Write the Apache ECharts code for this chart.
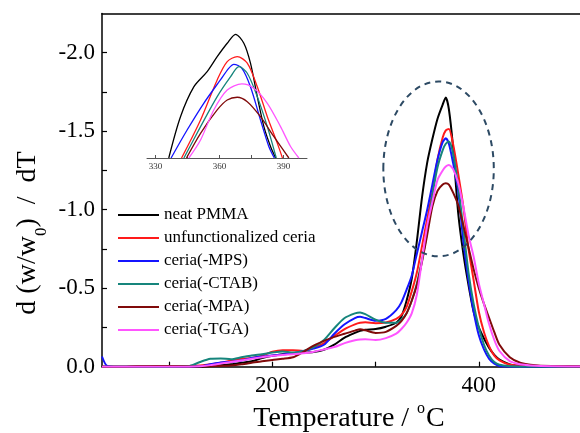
<!DOCTYPE html>
<html><head><meta charset="utf-8">
<script src="https://cdn.jsdelivr.net/npm/echarts@6/dist/echarts.min.js"></script>
<style>html,body{margin:0;padding:0;background:#fff}#c{width:580px;height:433px}</style>
</head><body><div id="c"></div>
<script>
// ---- main chart data ----
const temps = [35,40,50,70,90,110,120,130,140,150,160,170,180,190,200,210,220,230,240,250,260,270,280,285,290,300,310,320,325,330,335,340,345,350,355,360,365,368,371,375,380,385,390,395,400,405,410,415,420,430,440,450,470,500];
const neatPMMA = [0,0,0,0,0, 0,0,0,-0.005,-0.01, -0.015,-0.025,-0.035,-0.055,-0.07, -0.08,-0.085,-0.088,-0.093,-0.108, -0.14,-0.185,-0.215,-0.228,-0.235, -0.24,-0.255,-0.28,-0.32,-0.42, -0.56,-0.8,-1.08,-1.3,-1.45, -1.58,-1.67,-1.715,-1.64,-1.4, -0.98,-0.72,-0.52,-0.35,-0.25, -0.18,-0.12,-0.075,-0.045,-0.015, -0.005,0,0,0];
const unfuncCeria = [0,0,0,-0.003,-0.005, -0.005,-0.005,-0.008,-0.015,-0.025, -0.04,-0.05,-0.055,-0.07,-0.095, -0.105,-0.105,-0.1,-0.12,-0.15, -0.195,-0.24,-0.27,-0.28,-0.283, -0.277,-0.282,-0.305,-0.33,-0.38, -0.48,-0.6,-0.77,-0.94,-1.11, -1.32,-1.46,-1.505,-1.515,-1.42, -1.23,-1.02,-0.75,-0.55,-0.35, -0.22,-0.13,-0.07,-0.04,-0.012, -0.008,-0.006,-0.004,-0.003];
const ceriaMPS = [-0.065,-0.005,0,0,0, 0,0,-0.003,-0.015,-0.027, -0.032,-0.04,-0.055,-0.065,-0.072, -0.078,-0.085,-0.1,-0.115,-0.14, -0.21,-0.27,-0.31,-0.318,-0.31, -0.293,-0.305,-0.36,-0.41,-0.49, -0.58,-0.72,-0.86,-1.0,-1.16, -1.32,-1.43,-1.455,-1.42,-1.3, -1.12,-0.8,-0.55,-0.35,-0.2, -0.11,-0.05,-0.02,-0.005,0, 0,0,0,0];
const ceriaCTAB = [0,0,0,0,0, -0.002,-0.005,-0.03,-0.05,-0.053, -0.048,-0.06,-0.072,-0.08,-0.09, -0.097,-0.09,-0.1,-0.125,-0.17, -0.245,-0.31,-0.34,-0.346,-0.335, -0.3,-0.28,-0.28,-0.3,-0.34, -0.42,-0.53,-0.68,-0.86,-1.09, -1.27,-1.38,-1.42,-1.435,-1.36, -1.15,-0.88,-0.6,-0.4,-0.25, -0.14,-0.07,-0.03,-0.012,-0.003, 0,0,0,0];
const ceriaMPA = [0,0,0,-0.003,-0.005, -0.003,-0.002,-0.002,-0.003,-0.005, -0.008,-0.015,-0.025,-0.035,-0.043, -0.05,-0.06,-0.095,-0.135,-0.165, -0.19,-0.21,-0.23,-0.238,-0.232, -0.215,-0.222,-0.26,-0.29,-0.34, -0.42,-0.52,-0.67,-0.84,-1.02, -1.12,-1.16,-1.168,-1.16,-1.11, -1.03,-0.9,-0.76,-0.62,-0.5, -0.4,-0.31,-0.22,-0.14,-0.06, -0.025,-0.013,-0.004,-0.002];
const ceriaTGA = [0,0,0,0,0, 0,0,-0.003,-0.01,-0.02, -0.03,-0.04,-0.05,-0.06,-0.07, -0.075,-0.08,-0.085,-0.095,-0.11, -0.125,-0.15,-0.168,-0.174,-0.175, -0.17,-0.182,-0.21,-0.24,-0.28, -0.34,-0.46,-0.68,-0.9,-1.05, -1.19,-1.25,-1.275,-1.285,-1.26, -1.17,-1.02,-0.84,-0.7,-0.53, -0.4,-0.27,-0.17,-0.1,-0.035, -0.015,-0.008,-0.003,-0.002];

const seriesNames = ['neat PMMA','unfunctionalized ceria','ceria(-MPS)','ceria(-CTAB)','ceria(-MPA)','ceria(-TGA)'];
const seriesColors = ['#000000','#ff1a1a','#1414ff','#16857c','#800a0a','#ff55ff'];

const xLabelValues = [200,400];
const xTickValues = [100,200,300,400];
const yLabelValues = [0,-0.5,-1.0,-1.5,-2.0];
const yTickValues = [0,-0.25,-0.5,-0.75,-1.0,-1.25,-1.5,-1.75,-2.0];

// ---- inset data (peak region) ----
const insetT_black = [336.2,341.7,348.0,354.2,358.9,363.6,367.5,371.4,374.5,377.7,380.8,383.9,386.3];
const insetV_black = [-0.685,-1.026,-1.274,-1.398,-1.522,-1.633,-1.707,-1.633,-1.468,-1.192,-0.944,-0.78,-0.685];
const insetT_red = [342.2,351.1,358.9,363.6,368.3,373.0,377.7,382.4,387.1,389.5];
const insetV_red = [-0.685,-0.999,-1.33,-1.481,-1.522,-1.468,-1.274,-1.026,-0.806,-0.685];
const insetT_blue = [337.3,344.8,352.6,360.4,364.3,366.7,370.5,374.5,379.2,383.1,385.7];
const insetV_blue = [-0.685,-0.916,-1.137,-1.33,-1.426,-1.459,-1.426,-1.274,-0.999,-0.78,-0.685];
const insetT_teal = [343.3,351.1,358.9,365.2,369.1,373.0,377.7,382.4,386.6];
const insetV_teal = [-0.685,-0.944,-1.192,-1.357,-1.44,-1.385,-1.192,-0.944,-0.685];
const insetT_brown = [344.5,351.1,358.9,363.6,368.3,373.0,379.2,385.5,392.5];
const insetV_brown = [-0.685,-0.889,-1.082,-1.164,-1.187,-1.15,-1.026,-0.861,-0.685];
const insetT_magenta = [345.6,351.1,357.3,363.6,370.5,376.1,382.4,388.6,393.3,397.2];
const insetV_magenta = [-0.685,-0.834,-1.082,-1.247,-1.297,-1.261,-1.137,-0.944,-0.78,-0.685];
const insetXLabels = [330,360,390];
const insetXTicks = [330,345,360,375,390];

const mainVals = [neatPMMA, unfuncCeria, ceriaMPS, ceriaCTAB, ceriaMPA, ceriaTGA];
const insetT = [insetT_black, insetT_red, insetT_blue, insetT_teal, insetT_brown, insetT_magenta];
const insetV = [insetV_black, insetV_red, insetV_blue, insetV_teal, insetV_brown, insetV_magenta];

const FONT = 'Liberation Serif';
const chart = echarts.init(document.getElementById('c'), null, {renderer:'canvas'});

const series = [];
mainVals.forEach((arr, k) => {
  series.push({
    name: seriesNames[k], type: 'line', xAxisIndex: 0, yAxisIndex: 0,
    data: temps.map((t, i) => [t, arr[i]]),
    showSymbol: false, smooth: 0.25, clip: true,
    lineStyle: {width: 2, color: seriesColors[k]}, itemStyle: {color: seriesColors[k]},
    z: 2
  });
});
insetT.forEach((ts, k) => {
  series.push({
    name: 'inset ' + seriesNames[k], type: 'line', xAxisIndex: 2, yAxisIndex: 1,
    data: ts.map((t, i) => [t, insetV[k][i]]),
    showSymbol: false, smooth: 0.3, clip: true,
    lineStyle: {width: 1.3, color: seriesColors[k]}, itemStyle: {color: seriesColors[k]},
    z: 3
  });
});

const titles = [
  {type: 'text', x: 349, y: 417, z: 10,
    style: {text: '{m|Temperature / }{s|o}{m|C}', align: 'center', verticalAlign: 'middle',
      rich: {m: {fontFamily: FONT, fontSize: 28, fill: '#000', lineHeight: 32, verticalAlign: 'bottom'},
             s: {fontFamily: FONT, fontSize: 16, fill: '#000', lineHeight: 32, verticalAlign: 'top', padding: [0,1,0,1]}}}},
  {type: 'text', x: 32, y: 233, rotation: Math.PI / 2, z: 10,
    style: {text: '{m|d (w/w}{s|0}{m|)  /  dT}', align: 'center', verticalAlign: 'middle',
      rich: {m: {fontFamily: FONT, fontSize: 28, fill: '#000', lineHeight: 36, verticalAlign: 'top'},
             s: {fontFamily: FONT, fontSize: 17, fill: '#000', lineHeight: 36, verticalAlign: 'bottom'}}}}
];

const option = {
  backgroundColor: '#fff',
  animation: false,
  grid: [
    {left: 102, right: 0, top: 13.5, bottom: 66.3},
    {left: 147, width: 160, top: 20, height: 138}
  ],
  xAxis: [
    {gridIndex: 0, type: 'value', min: 35, max: 498, position: 'bottom',
      axisLine: {show: true, onZero: false, lineStyle: {color: '#000', width: 1.5}},
      axisTick: {show: true, inside: true, length: 5, customValues: xTickValues, lineStyle: {color: '#000', width: 1.2}},
      axisLabel: {customValues: xLabelValues, fontFamily: FONT, fontSize: 23, color: '#000', margin: 8},
      splitLine: {show: false}},
    {gridIndex: 0, type: 'value', min: 35, max: 498, position: 'top',
      axisLine: {show: true, onZero: false, lineStyle: {color: '#000', width: 1.5}},
      axisTick: {show: false}, axisLabel: {show: false}, splitLine: {show: false}},
    {gridIndex: 1, type: 'value', min: 326, max: 401, position: 'bottom',
      axisLine: {show: true, onZero: false, lineStyle: {color: '#555', width: 1}},
      axisTick: {show: true, inside: true, length: 3, customValues: insetXTicks, lineStyle: {color: '#555'}},
      axisLabel: {customValues: insetXLabels, fontFamily: FONT, fontSize: 9, color: '#333', margin: 4},
      splitLine: {show: false}}
  ],
  yAxis: [
    {gridIndex: 0, type: 'value', min: -2.25, max: 0, inverse: true,
      axisLine: {show: true, onZero: false, lineStyle: {color: '#000', width: 1.5}},
      axisTick: {show: true, inside: true, length: 5, customValues: yTickValues, lineStyle: {color: '#000', width: 1.2}},
      axisLabel: {customValues: yLabelValues, fontFamily: FONT, fontSize: 23, color: '#000', margin: 7,
        formatter: v => (Math.abs(v) < 1e-9 ? '0.0' : v.toFixed(1))},
      splitLine: {show: false}},
    {gridIndex: 1, type: 'value', min: -1.825, max: -0.685, inverse: true, show: false}
  ],
  legend: {
    data: seriesNames, orient: 'vertical', left: 113, top: 200,
    icon: 'rect', itemWidth: 41, itemHeight: 2, itemGap: 3,
    textStyle: {fontFamily: FONT, fontSize: 17, color: '#000', lineHeight: 20}
  },
  series: series,
  graphic: titles
};
chart.setOption(option);

// dashed ellipse around the peak region, positioned in data coordinates
const ellipseCenter = [361, -1.26];
const ellipseRadius = [53.5, 0.557];
const c = chart.convertToPixel({gridIndex: 0}, ellipseCenter);
const e = chart.convertToPixel({gridIndex: 0}, [ellipseCenter[0] + ellipseRadius[0], ellipseCenter[1] - ellipseRadius[1]]);
chart.setOption({graphic: titles.concat([
  {type: 'ellipse', z: 5, shape: {cx: c[0], cy: c[1], rx: Math.abs(e[0] - c[0]), ry: Math.abs(e[1] - c[1])},
    style: {fill: 'none', stroke: '#2d4a64', lineWidth: 2, lineDash: [6, 5]}}
])});
</script>
</body></html>
